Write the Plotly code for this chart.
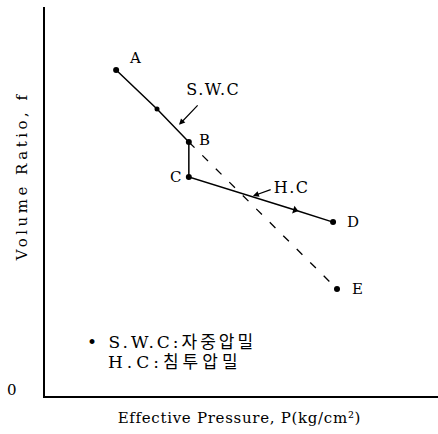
import plotly.graph_objects as go

# Data (arbitrary units: x = effective pressure, y = volume ratio)
path_labels = ["A", "M1", "B", "C", "M2", "D"]
path_x = [1.81, 2.85, 3.66, 3.66, 6.36, 7.33]
path_y = [8.38, 7.38, 6.53, 5.63, 4.78, 4.47]
dash_x = [3.66, 7.43]   # B -> E
dash_y = [6.53, 2.75]
point_names = ["A", "B", "C", "D", "E"]
point_x = [1.81, 3.66, 3.66, 7.33, 7.43]
point_y = [8.38, 6.53, 5.63, 4.47, 2.75]
label_x = [2.28, 4.07, 3.31, 7.84, 7.94]
label_y = [8.69, 6.58, 5.63, 4.47, 2.75]

X_RANGE = [0, 10]
Y_RANGE = [0, 10]

SERIF = "DejaVu Serif, Liberation Serif, serif"
MIX = "DejaVu Serif, Noto Sans CJK KR, serif"

fig = go.Figure()

# dashed B -> E
fig.add_trace(go.Scatter(x=dash_x, y=dash_y, mode="lines",
                         line=dict(color="black", width=1.3, dash="8px,11px"),
                         hoverinfo="skip", showlegend=False))
# solid path A-B-C-D
fig.add_trace(go.Scatter(x=path_x, y=path_y, mode="lines",
                         line=dict(color="black", width=1.5),
                         hoverinfo="skip", showlegend=False))
# main dots
fig.add_trace(go.Scatter(x=point_x, y=point_y, mode="markers",
                         marker=dict(color="black", size=6),
                         hoverinfo="skip", showlegend=False))
# mid markers
fig.add_trace(go.Scatter(x=[path_x[1]], y=[path_y[1]], mode="markers",
                         marker=dict(color="black", size=5),
                         hoverinfo="skip", showlegend=False))
fig.add_trace(go.Scatter(x=[path_x[4]], y=[path_y[4]], mode="markers",
                         marker=dict(color="black", size=7, symbol="triangle-right", angle=17),
                         hoverinfo="skip", showlegend=False))

# point labels
for n, lx, ly in zip(point_names, label_x, label_y):
    fig.add_annotation(x=lx, y=ly, text=n, showarrow=False,
                       font=dict(family=SERIF, size=15, color="black"),
                       xanchor="center", yanchor="middle")

# S.W.C arrow + label
fig.add_annotation(x=3.41, y=6.97, ax=3.92, ay=7.51, axref="x", ayref="y",
                   text="", showarrow=True, arrowhead=2, arrowsize=1, arrowwidth=1.2,
                   arrowcolor="black")
fig.add_annotation(x=4.27, y=7.87, text="S.W.C", showarrow=False,
                   xanchor="center", yanchor="middle",
                   font=dict(family=SERIF, size=16, color="black"))
# H.C arrow + label
fig.add_annotation(x=5.29, y=5.14, ax=5.78, ay=5.32, axref="x", ayref="y",
                   text="", showarrow=True, arrowhead=2, arrowsize=1, arrowwidth=1.2,
                   arrowcolor="black")
fig.add_annotation(x=6.26, y=5.37, text="H.C", showarrow=False,
                   xanchor="center", yanchor="middle",
                   font=dict(family=SERIF, size=16, color="black"))

# legend text
fig.add_annotation(x=3.21, y=1.39, text="• S.W.C:자중압밀", showarrow=False,
                   xanchor="center", yanchor="middle",
                   font=dict(family=MIX, size=17, color="black"))
fig.add_annotation(x=3.31, y=0.87, text="H.C:침투압밀", showarrow=False,
                   xanchor="center", yanchor="middle",
                   font=dict(family=MIX, size=17, color="black"))

# axis texts
fig.add_annotation(x=-33 / 393, y=6 / 389, xref="paper", yref="paper", text="0",
                   showarrow=False, xanchor="center", yanchor="middle",
                   font=dict(family=SERIF, size=15, color="black"))
fig.add_annotation(x=0.495, y=-22 / 389, xref="paper", yref="paper",
                   text="Effective Pressure, P(kg/cm²)", showarrow=False,
                   xanchor="center", yanchor="middle",
                   font=dict(family=SERIF, size=15, color="black"))
fig.add_annotation(x=-23 / 393, y=(396 - 176) / 389, xref="paper", yref="paper",
                   text="Volume Ratio, f", textangle=-90, showarrow=False,
                   xanchor="center", yanchor="middle",
                   font=dict(family=SERIF, size=15, color="black"))

fig.update_xaxes(range=X_RANGE, showgrid=False, zeroline=False, showticklabels=False,
                 ticks="", showline=True, linecolor="black", linewidth=2)
fig.update_yaxes(range=Y_RANGE, showgrid=False, zeroline=False, showticklabels=False,
                 ticks="", showline=True, linecolor="black", linewidth=2)

fig.update_layout(width=438, height=434, margin=dict(l=45, r=0, t=7, b=38),
                  paper_bgcolor="white", plot_bgcolor="white", showlegend=False)

post = """
document.body.style.margin='0px';
var sp = {"Volume Ratio, f": "3.5px", "Effective Pressure, P(kg/cm²)": "0.7px",
          "S.W.C": "1.5px", "H.C": "1.5px",
          "• S.W.C:자중압밀": "3px", "H.C:침투압밀": "4px"};
document.querySelectorAll('text.annotation-text').forEach(function(t){
  var v = sp[t.textContent]; if (v) { t.style.letterSpacing = v; }
});
"""
fig.write_html("out.html", config={"displayModeBar": False}, post_script=post)
